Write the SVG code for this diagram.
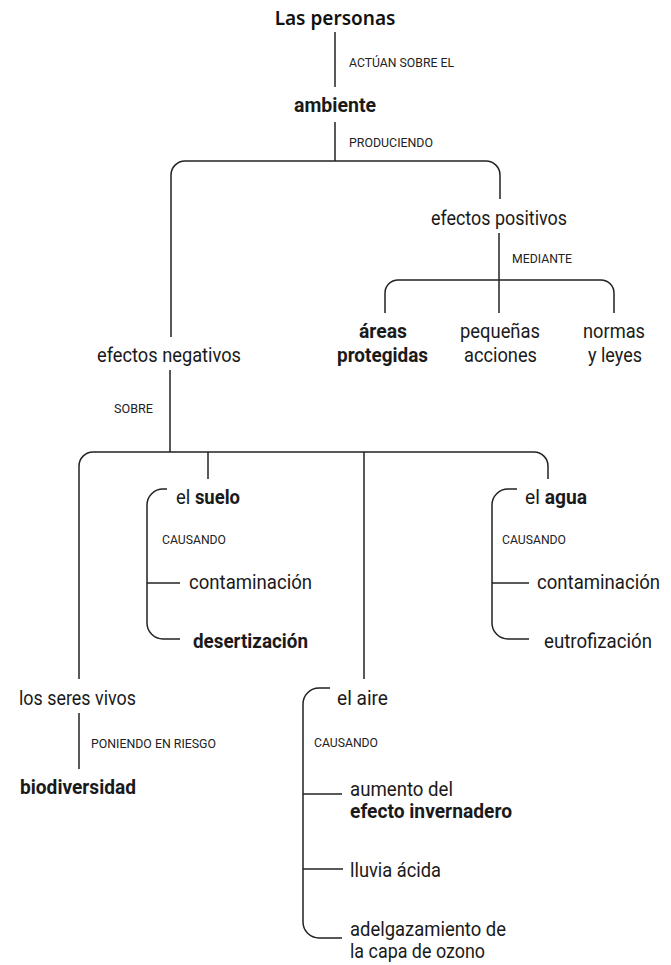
<svg xmlns="http://www.w3.org/2000/svg" width="671" height="965" viewBox="0 0 671 965">
<style>
.bg{fill:#ffffff}
.ln{fill:none;stroke:#222;stroke-width:1.5;stroke-linecap:butt}
.t{font-family:Roboto,"Liberation Sans",sans-serif;font-size:20px;fill:#1a1a1a}
.b{font-weight:bold}
.s{font-family:Roboto,"Liberation Sans",sans-serif;font-size:12.5px;fill:#222}
.h{font-family:"Comic Sans MS","Noto Sans",sans-serif;font-size:19px;font-weight:600;fill:#111}
.m{text-anchor:middle}
</style>
<rect class="bg" x="0" y="0" width="671" height="965"/>
<g id="connectors">
<path class="ln" d="M335,32 V87"/>
<path class="ln" d="M335,122 V161"/>
<path class="ln" d="M171,337 V175 A14,14 0 0 1 185,161 H486 A14,14 0 0 1 500,175 V199"/>
<path class="ln" d="M499,233 V313"/>
<path class="ln" d="M385,313 V293 A13,13 0 0 1 398,280 H601 A13,13 0 0 1 614,293 V313"/>
<path class="ln" d="M170,370 V452"/>
<path class="ln" d="M79,679 V466 A14,14 0 0 1 93,452 H534 A14,14 0 0 1 548,466 V479"/>
<path class="ln" d="M208,452 V479"/>
<path class="ln" d="M364,452 V679"/>
<path class="ln" d="M167,489 H163 A16,16 0 0 0 147,505 V623 A16,16 0 0 0 163,639 H180"/>
<path class="ln" d="M147,583 H180"/>
<path class="ln" d="M517,489 H508 A16,16 0 0 0 492,505 V623 A16,16 0 0 0 508,639 H529"/>
<path class="ln" d="M492,583 H529"/>
<path class="ln" d="M79,713 V769"/>
<path class="ln" d="M330,688 H319 A16,16 0 0 0 303,704 V922 A16,16 0 0 0 319,938 H342"/>
<path class="ln" d="M303,794 H342"/>
<path class="ln" d="M303,869 H343"/>
</g>
<g id="labels">
<text class="s" x="349" y="67" textLength="105" lengthAdjust="spacingAndGlyphs">ACTÚAN SOBRE EL</text>
<text class="s" x="349" y="147" textLength="84" lengthAdjust="spacingAndGlyphs">PRODUCIENDO</text>
<text class="s" x="512" y="263" textLength="60" lengthAdjust="spacingAndGlyphs">MEDIANTE</text>
<text class="s" x="114" y="413" textLength="39" lengthAdjust="spacingAndGlyphs">SOBRE</text>
<text class="s" x="162" y="544" textLength="64" lengthAdjust="spacingAndGlyphs">CAUSANDO</text>
<text class="s" x="502" y="544" textLength="64" lengthAdjust="spacingAndGlyphs">CAUSANDO</text>
<text class="s" x="91" y="748" textLength="125" lengthAdjust="spacingAndGlyphs">PONIENDO EN RIESGO</text>
<text class="s" x="314" y="747" textLength="64" lengthAdjust="spacingAndGlyphs">CAUSANDO</text>
</g>
<g id="n-personas"><text class="h m" x="335" y="25">Las personas</text></g>
<g id="n-ambiente"><text class="t b" x="294" y="112" textLength="82" lengthAdjust="spacingAndGlyphs">ambiente</text></g>
<g id="n-positivos"><text class="t" x="431" y="225" textLength="136" lengthAdjust="spacingAndGlyphs">efectos positivos</text></g>
<g id="n-areas"><text class="t b" x="359" y="338" textLength="48" lengthAdjust="spacingAndGlyphs">áreas</text><text class="t b" x="337" y="362" textLength="91" lengthAdjust="spacingAndGlyphs">protegidas</text></g>
<g id="n-pequenas"><text class="t" x="460" y="338" textLength="80" lengthAdjust="spacingAndGlyphs">pequeñas</text><text class="t" x="464" y="362" textLength="73" lengthAdjust="spacingAndGlyphs">acciones</text></g>
<g id="n-normas"><text class="t" x="583" y="338" textLength="62" lengthAdjust="spacingAndGlyphs">normas</text><text class="t" x="588" y="362" textLength="54" lengthAdjust="spacingAndGlyphs">y leyes</text></g>
<g id="n-negativos"><text class="t" x="97" y="362" textLength="144" lengthAdjust="spacingAndGlyphs">efectos negativos</text></g>
<g id="n-suelo"><text class="t" x="176" y="504" textLength="64" lengthAdjust="spacingAndGlyphs">el <tspan class="b">suelo</tspan></text></g>
<g id="n-suelo-cont"><text class="t" x="189" y="589" textLength="123" lengthAdjust="spacingAndGlyphs">contaminación</text></g>
<g id="n-desert"><text class="t b" x="193" y="648" textLength="115" lengthAdjust="spacingAndGlyphs">desertización</text></g>
<g id="n-agua"><text class="t" x="525" y="504" textLength="62" lengthAdjust="spacingAndGlyphs">el <tspan class="b">agua</tspan></text></g>
<g id="n-agua-cont"><text class="t" x="537" y="589" textLength="123" lengthAdjust="spacingAndGlyphs">contaminación</text></g>
<g id="n-eutro"><text class="t" x="544" y="648" textLength="108" lengthAdjust="spacingAndGlyphs">eutrofización</text></g>
<g id="n-seres"><text class="t" x="19" y="705" textLength="117" lengthAdjust="spacingAndGlyphs">los seres vivos</text></g>
<g id="n-biodiv"><text class="t b" x="20" y="794" textLength="116" lengthAdjust="spacingAndGlyphs">biodiversidad</text></g>
<g id="n-aire"><text class="t" x="337" y="705" textLength="51" lengthAdjust="spacingAndGlyphs">el aire</text></g>
<g id="n-invernadero"><text class="t" x="350" y="796" textLength="103" lengthAdjust="spacingAndGlyphs">aumento del</text><text class="t b" x="350" y="818" textLength="162" lengthAdjust="spacingAndGlyphs">efecto invernadero</text></g>
<g id="n-lluvia"><text class="t" x="350" y="877" textLength="91" lengthAdjust="spacingAndGlyphs">lluvia ácida</text></g>
<g id="n-ozono"><text class="t" x="350" y="936" textLength="156" lengthAdjust="spacingAndGlyphs">adelgazamiento de</text><text class="t" x="350" y="958" textLength="135" lengthAdjust="spacingAndGlyphs">la capa de ozono</text></g>
</svg>
